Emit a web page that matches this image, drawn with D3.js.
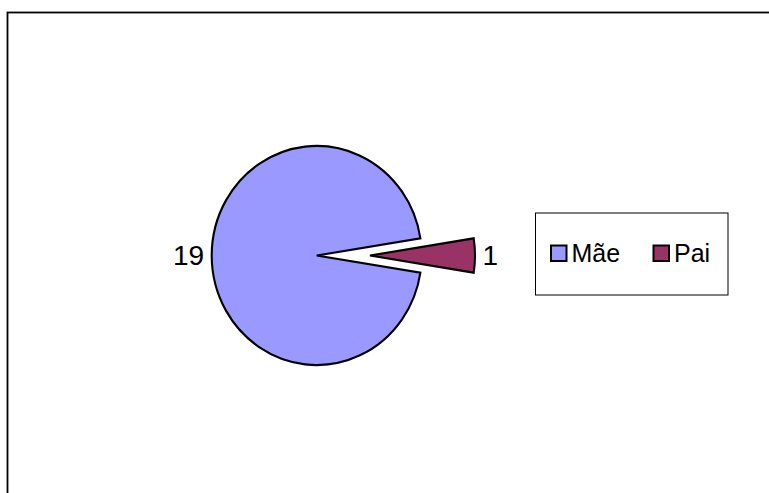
<!DOCTYPE html>
<html>
<head>
<meta charset="utf-8">
<script src="https://cdn.jsdelivr.net/npm/d3@7"></script>
<style>
  html, body { margin: 0; padding: 0; background: #fff; }
  svg { display: block; }
  text { font-family: "Liberation Sans", Arial, sans-serif; fill: #000; }
</style>
</head>
<body>
<svg id="chart" width="769" height="493"></svg>
<script>
// Who answered: mother or father
const categories = ["Mãe", "Pai"];
const values = [19, 1];
const colors = ["#9999FF", "#993366"];
const explodeIndex = 1;

const svg = d3.select("#chart");
const W = 769, H = 493;

// Chart area frame (only left/top edges fall inside the view)
svg.append("rect")
  .attr("x", 7.5).attr("y", 12.5)
  .attr("width", W + 20).attr("height", H + 20)
  .attr("fill", "#fff")
  .attr("stroke", "#000")
  .attr("stroke-width", 1.8);

const cx = 316.7, cy = 255.5;
const rx = 105, ry = 109.5;
const explode = 53.3;
const labelSize = 28;
const legendSize = 25;

// Rotate so the small slice sits centred at 3 o'clock
const total = d3.sum(values);
const smallSpan = 2 * Math.PI * values[1] / total;
const start = Math.PI / 2 + smallSpan / 2;

const pie = d3.pie().sort(null).value(d => d)
  .startAngle(start).endAngle(start + 2 * Math.PI);
const arcs = pie(values);
const arc = d3.arc().innerRadius(0).outerRadius(rx);

const g = svg.append("g").attr("transform", `translate(${cx},${cy})`);

arcs.forEach((a, i) => {
  const mid = (a.startAngle + a.endAngle) / 2;
  const off = i === explodeIndex ? explode : 0;
  const dx = Math.sin(mid) * off, dy = -Math.cos(mid) * off;
  const sg = g.append("g").attr("transform", `translate(${dx},${dy}) scale(1,${ry / rx})`);
  sg.append("path")
    .attr("d", arc(a))
    .attr("fill", colors[i])
    .attr("stroke", "#000")
    .attr("stroke-width", 2.1)
    .attr("stroke-linejoin", "miter");

  // Value label just outside the slice
  const lr = rx + off + 7.5;
  const lx = Math.sin(mid) * lr;
  const ly = -Math.cos(mid) * (ry + 7.5);
  g.append("text")
    .attr("x", lx)
    .attr("y", ly)
    .attr("dy", "0.35em")
    .attr("text-anchor", Math.sin(mid) >= 0 ? "start" : "end")
    .attr("font-size", labelSize)
    .text(values[i]);
});

// Legend
const lg = svg.append("g");
lg.append("rect")
  .attr("x", 535.5).attr("y", 213)
  .attr("width", 192.5).attr("height", 82)
  .attr("fill", "#fff")
  .attr("stroke", "#000")
  .attr("stroke-width", 1);

const legendX = d3.scalePoint().domain(categories).range([551, 653.5]);
categories.forEach((c, i) => {
  const x = legendX(c);
  lg.append("rect")
    .attr("x", x).attr("y", 245.5)
    .attr("width", 15.5).attr("height", 15.5)
    .attr("fill", colors[i])
    .attr("stroke", "#000")
    .attr("stroke-width", 2);
  lg.append("text")
    .attr("x", x + 20.5)
    .attr("y", 262.3)
    .attr("font-size", legendSize)
    .text(c);
});
</script>
</body>
</html>
